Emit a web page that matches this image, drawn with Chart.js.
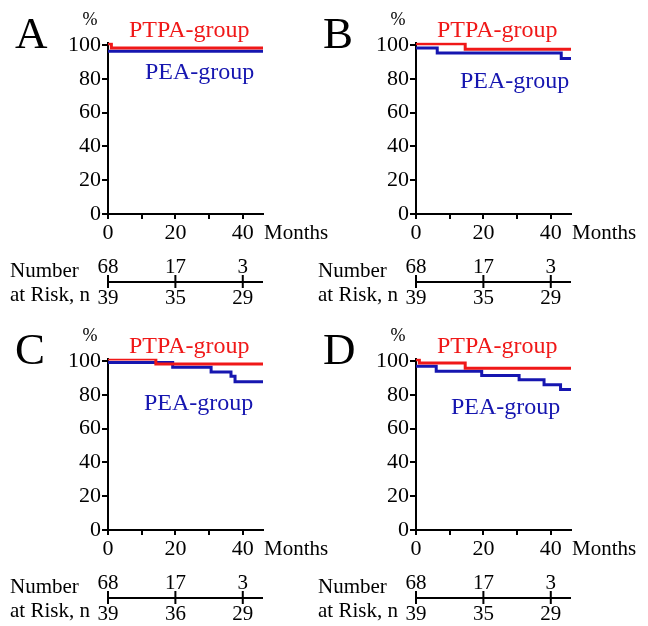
<!DOCTYPE html>
<html lang="en">
<head>
<meta charset="UTF-8">
<title>PTPA-group vs PEA-group</title>
<script src="https://cdn.jsdelivr.net/npm/chart.js@4.4.1/dist/chart.umd.min.js"></script>
<style>
  body { margin: 0; background: #fff; }
  #wrap { position: relative; width: 648px; height: 626px; }
  canvas { position: absolute; }
</style>
</head>
<body>
<div id="wrap">
  <canvas id="c0" width="330" height="310" style="left:0px;top:0px"></canvas>
  <canvas id="c1" width="340" height="310" style="left:308px;top:0px"></canvas>
  <canvas id="c2" width="330" height="310" style="left:0px;top:316px"></canvas>
  <canvas id="c3" width="340" height="310" style="left:308px;top:316px"></canvas>
</div>
<script>
// panels
const letters = ['A', 'B', 'C', 'D'];

// PTPA-group (red) step curves: event times (months) and survival (%)
const ptpaTimes = [[0, 1, 46], [0, 14.6, 46], [0, 14.2, 46], [0, 1, 14.6, 46]];
const ptpaSurv  = [[100.8, 98.3, 98.3], [100.8, 97.5, 97.5], [101.2, 98.2, 98.2], [100.8, 98.8, 95.8, 95.8]];

// PEA-group (blue)
const peaTimes = [[0, 46], [0, 6.3, 43.1, 46], [0, 19.2, 30.6, 36.5, 37.7, 46], [0, 6, 19.5, 30.6, 38, 42.9, 46]];
const peaSurv  = [[96.4, 96.4], [98.2, 95.3, 92, 92], [99.2, 96.3, 93.5, 91, 87.7, 87.7], [96.9, 93.9, 91.5, 89, 86, 83.2, 83.2]];

// axes
const xTicks = [0, 10, 20, 30, 40];
const xLabelled = [0, 20, 40];
const yTicks = [0, 20, 40, 60, 80, 100];

// number at risk
const riskTimes = [0, 20, 40];
const riskTop = [[68, 17, 3], [68, 17, 3], [68, 17, 3], [68, 17, 3]];
const riskBottom = [[39, 35, 29], [39, 35, 29], [39, 36, 29], [39, 35, 29]];

const RED = '#f01818';
const BLUE = '#1616b0';
const SERIF = '"Liberation Serif", "DejaVu Serif", serif';
const peaLabelX = [145, 152, 144, 143];
const peaLabelY = [79, 88, 94, 98];

function pts(ts, ss) {
  return ts.map((t, k) => ({ x: t, y: ss[k] }));
}

const overlay = {
  id: 'overlay',
  afterDraw(chart) {
    const i = chart.options.plugins.overlay.panel;
    const ctx = chart.ctx;
    const x = chart.scales.x;
    ctx.save();
    ctx.textBaseline = 'alphabetic';
    ctx.fillStyle = '#000';

    ctx.textAlign = 'left';
    ctx.font = '45px ' + SERIF;
    ctx.fillText(letters[i], 15, 48);

    ctx.textAlign = 'center';
    ctx.font = '18px ' + SERIF;
    ctx.fillText('%', 90, 25);

    ctx.textAlign = 'left';
    ctx.font = '21px ' + SERIF;
    ctx.fillText('Months', x.right + 1, 239);

    ctx.font = '24px ' + SERIF;
    ctx.fillStyle = RED;
    ctx.fillText('PTPA-group', 129, 37);
    ctx.fillStyle = BLUE;
    ctx.fillText('PEA-group', peaLabelX[i], peaLabelY[i]);

    // number at risk row
    const ly = 282;
    ctx.strokeStyle = '#000';
    ctx.lineWidth = 2;
    ctx.beginPath();
    ctx.moveTo(x.getPixelForValue(0), ly);
    ctx.lineTo(x.right, ly);
    riskTimes.forEach(t => {
      const px = x.getPixelForValue(t);
      ctx.moveTo(px, ly - 7);
      ctx.lineTo(px, ly + 6);
    });
    ctx.stroke();

    ctx.fillStyle = '#000';
    ctx.font = '21px ' + SERIF;
    ctx.textAlign = 'left';
    ctx.fillText('Number', 10, 277);
    ctx.fillText('at Risk, n', 10, 301);
    ctx.textAlign = 'center';
    riskTimes.forEach((t, k) => {
      const px = x.getPixelForValue(t);
      ctx.fillText(String(riskTop[i][k]), px, 273);
      ctx.fillText(String(riskBottom[i][k]), px, 304);
    });
    ctx.restore();
  }
};

letters.forEach((l, i) => {
  const canvas = document.getElementById('c' + i);
  new Chart(canvas, {
    type: 'line',
    data: {
      datasets: [
        { data: pts(ptpaTimes[i], ptpaSurv[i]), borderColor: RED, borderWidth: 3, stepped: true, pointRadius: 0, fill: false },
        { data: pts(peaTimes[i], peaSurv[i]), borderColor: BLUE, borderWidth: 3, stepped: true, pointRadius: 0, fill: false }
      ]
    },
    options: {
      responsive: false,
      animation: false,
      devicePixelRatio: 1,
      layout: { padding: { left: 68, right: canvas.width - 263, top: 42.7, bottom: 62 } },
      plugins: {
        legend: { display: false },
        tooltip: { enabled: false },
        overlay: { panel: i }
      },
      scales: {
        x: {
          type: 'linear',
          min: 0,
          max: 46,
          afterBuildTicks: s => { s.ticks = xTicks.map(v => ({ value: v })); },
          afterFit: s => { s.height = 34; },
          grid: { drawOnChartArea: false, drawTicks: true, tickLength: 5, color: '#000', lineWidth: 2 },
          border: { display: true, color: '#000', width: 2 },
          ticks: {
            color: '#000',
            font: { family: SERIF, size: 22 },
            padding: 1,
            maxRotation: 0,
            autoSkip: false,
            callback: v => xLabelled.includes(v) ? String(v) : ''
          }
        },
        y: {
          min: 0,
          max: 101.4,
          afterBuildTicks: s => { s.ticks = yTicks.map(v => ({ value: v })); },
          afterFit: s => { s.width = 40; },
          grid: { drawOnChartArea: false, drawTicks: true, tickLength: 6, color: '#000', lineWidth: 2 },
          border: { display: true, color: '#000', width: 2 },
          ticks: {
            color: '#000',
            font: { family: SERIF, size: 22 },
            padding: 1
          }
        }
      }
    },
    plugins: [overlay]
  });
});
</script>
</body>
</html>
